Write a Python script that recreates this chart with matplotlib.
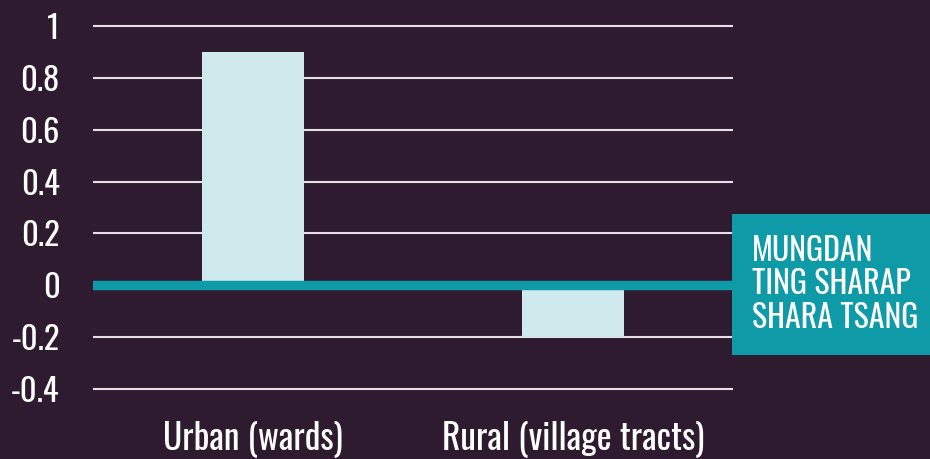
import matplotlib
matplotlib.use("Agg")
import matplotlib.pyplot as plt
from matplotlib.patches import Rectangle
from matplotlib.transforms import blended_transform_factory

categories = ["Urban (wards)", "Rural (village tracts)"]
values = [0.9, -0.2]
yticks = [-0.4, -0.2, 0, 0.2, 0.4, 0.6, 0.8, 1]
ytick_labels = ["-0.4", "-0.2", "0", "0.2", "0.4", "0.6", "0.8", "1"]
box_label = "MUNGDAN\nTING SHARAP\nSHARA TSANG"

plt.rcParams["font.family"] = ["Oswald", "DejaVu Sans"]

BG = "#2f1b30"
TEAL = "#0f9aa8"
BAR = "#cfe9ed"
GRID = "#e4e0e4"
W, H = 930, 459

fig = plt.figure(figsize=(W / 100, H / 100), dpi=100, facecolor=BG)
ppu = 363 / 1.4
m = 0.02
ax = fig.add_axes([93 / W, (H - 389 - m * ppu) / H, 640 / W, (363 + 2 * m * ppu) / H])
ax.set_facecolor(BG)

x = list(range(len(categories)))
ax.bar(x, values, width=0.316, color=BAR, zorder=3)
ax.axhline(0, color=TEAL, lw=6.8, zorder=4)

ax.set_xlim(-0.5, 1.5)
ax.set_ylim(-0.4 - m, 1 + m)
ax.set_yticks(yticks)
ax.set_yticklabels(ytick_labels)
ax.yaxis.grid(True, color=GRID, lw=1.5, zorder=1)
ax.set_axisbelow(True)
for s in ax.spines.values():
    s.set_visible(False)

ax.set_xticks([])
tr = blended_transform_factory(ax.transData, fig.transFigure)
for xi, lab in zip(x, categories):
    ax.text(xi, (H - 449) / H, lab, transform=tr, ha="center", va="baseline",
            color="white", fontsize=25.5)

ax.tick_params(axis="both", length=0, colors="white", labelsize=23.5)
ax.tick_params(axis="y", pad=24)

fig.patches.append(Rectangle((732 / W, (H - 355) / H), (W - 732) / W, 141 / H,
                             transform=fig.transFigure, facecolor=TEAL,
                             edgecolor="none", zorder=5))
fig.text(752 / W, (H - 284.5) / H, box_label, color="white", fontsize=23,
         ha="left", va="center", linespacing=1.05, zorder=6)

fig.savefig("out.png", dpi=100, facecolor=BG)
